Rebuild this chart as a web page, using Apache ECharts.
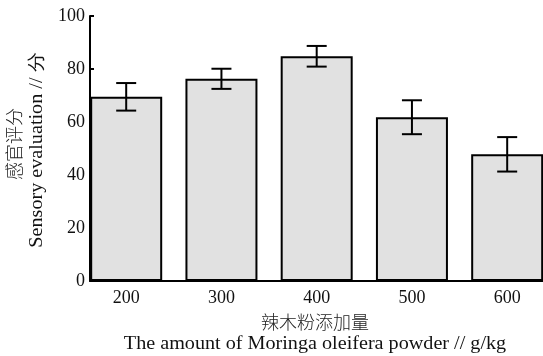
<!DOCTYPE html>
<html>
<head>
<meta charset="utf-8">
<script src="https://cdn.jsdelivr.net/npm/echarts@6/dist/echarts.min.js"></script>
<style>
  html, body { margin: 0; padding: 0; background: #fff; }
  #chart { width: 543px; height: 356px; }
</style>
</head>
<body>
<div id="chart"></div>
<script>
// Moringa powder dose (g/kg) vs sensory score, mean ± SD
const doses = [200, 300, 400, 500, 600];
const scores = [69.5, 76.3, 84.8, 61.8, 47.8];
const errors = [5.2, 3.8, 3.9, 6.4, 6.5];
const yTicks = [0, 20, 40, 60, 80, 100];

const serif = '"Liberation Serif", "DejaVu Serif", serif';
const cjk = '"Noto Sans CJK SC", sans-serif';

const chart = echarts.init(document.getElementById('chart'), null, { renderer: 'canvas' });

const barData = doses.map((d, i) => [d, scores[i]]);
const errData = doses.map((d, i) => [d, scores[i] - errors[i], scores[i] + errors[i]]);

chart.setOption({
  animation: false,
  backgroundColor: '#fff',
  grid: { left: 90, right: 0, top: 16, bottom: 75, containLabel: false },
  xAxis: {
    type: 'value',
    min: 162,
    max: 637.6,
    splitLine: { show: false },
    axisTick: { show: false },
    axisLine: { show: true, onZero: false, lineStyle: { color: '#000', width: 2 } },
    axisLabel: {
      customValues: doses,
      margin: 8,
      color: '#111',
      fontFamily: serif,
      fontSize: 18,
      formatter: v => String(v)
    }
  },
  yAxis: {
    type: 'value',
    min: 0,
    max: 100,
    interval: 20,
    splitLine: { show: false },
    axisLine: { show: true, lineStyle: { color: '#000', width: 2 } },
    axisTick: { show: true, inside: true, length: 4, lineStyle: { color: '#000', width: 2 } },
    axisLabel: {
      customValues: yTicks,
      margin: 5,
      color: '#111',
      fontFamily: serif,
      fontSize: 18
    }
  },
  series: [
    {
      type: 'bar',
      data: barData,
      barWidth: 72,
      itemStyle: { color: '#e1e1e1', borderColor: '#000', borderWidth: 2 },
      z: 2
    },
    {
      type: 'custom',
      data: errData,
      z: 3,
      renderItem: (params, api) => {
        const x = api.value(0);
        const lo = api.coord([x, api.value(1)]);
        const hi = api.coord([x, api.value(2)]);
        const half = 10;
        const style = { stroke: '#000', lineWidth: 2 };
        return {
          type: 'group',
          children: [
            { type: 'line', shape: { x1: lo[0], y1: lo[1], x2: hi[0], y2: hi[1] }, style },
            { type: 'line', shape: { x1: hi[0] - half, y1: hi[1], x2: hi[0] + half, y2: hi[1] }, style },
            { type: 'line', shape: { x1: lo[0] - half, y1: lo[1], x2: lo[0] + half, y2: lo[1] }, style }
          ]
        };
      }
    }
  ],
  graphic: [
    {
      type: 'text', x: 14, y: 144, rotation: Math.PI / 2,
      style: { text: '感官评分', font: '300 18px ' + cjk, fill: '#222', align: 'center', verticalAlign: 'middle' }
    },
    {
      type: 'text', x: 37, y: 150, rotation: Math.PI / 2, scaleX: 1.12,
      style: { text: 'Sensory evaluation // 分', font: '18px ' + serif, fill: '#111', align: 'center', verticalAlign: 'middle' }
    },
    {
      type: 'text', x: 315, y: 322,
      style: { text: '辣木粉添加量', font: '300 18px ' + cjk, fill: '#222', align: 'center', verticalAlign: 'middle' }
    },
    {
      type: 'text', x: 315, y: 344, scaleX: 1.12,
      style: { text: 'The amount of Moringa oleifera powder // g/kg', font: '18px ' + serif, fill: '#111', align: 'center', verticalAlign: 'middle' }
    }
  ]
});
</script>
</body>
</html>
